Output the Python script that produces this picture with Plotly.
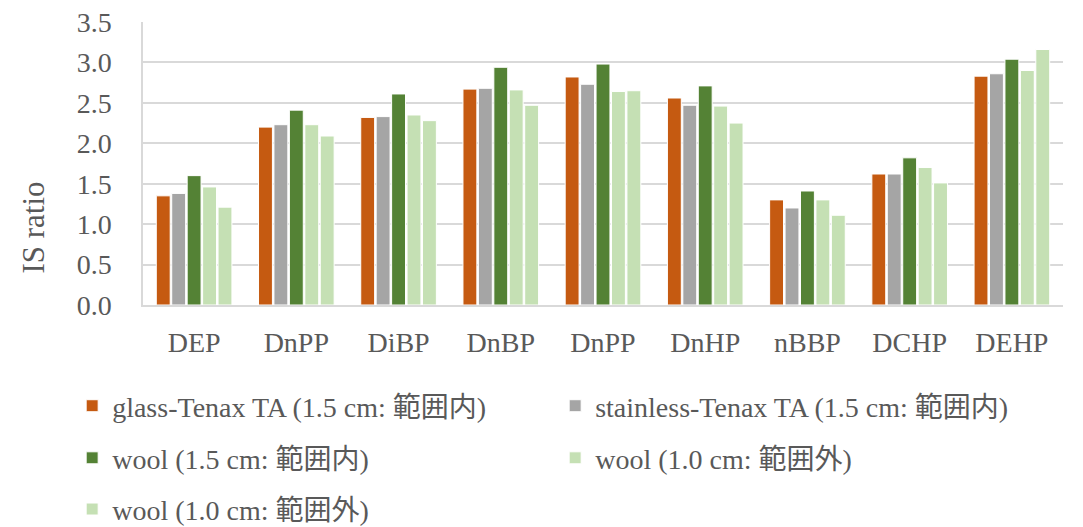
import plotly.graph_objects as go

# Compounds along the x axis (DnPP appears twice in the series)
categories = ["DEP", "DnPP", "DiBP", "DnBP", "DnPP", "DnHP", "nBBP", "DCHP", "DEHP"]

# IS ratio per adsorbent / tube configuration
glass_tenax = [1.35, 2.20, 2.32, 2.67, 2.82, 2.56, 1.30, 1.62, 2.83]
stainless_tenax = [1.38, 2.23, 2.33, 2.68, 2.73, 2.47, 1.20, 1.62, 2.86]
wool_15 = [1.60, 2.41, 2.61, 2.94, 2.98, 2.71, 1.41, 1.82, 3.04]
wool_10_a = [1.46, 2.23, 2.35, 2.66, 2.64, 2.46, 1.30, 1.70, 2.90]
wool_10_b = [1.21, 2.09, 2.28, 2.47, 2.65, 2.25, 1.11, 1.51, 3.16]

series_names = [
    "glass-Tenax TA (1.5 cm: 範囲内)",
    "stainless-Tenax TA (1.5 cm: 範囲内)",
    "wool (1.5 cm: 範囲内)",
    "wool (1.0 cm: 範囲外)",
    "wool (1.0 cm: 範囲外)",
]
series_values = [glass_tenax, stainless_tenax, wool_15, wool_10_a, wool_10_b]
series_colors = ["#C55A11", "#A5A5A5", "#548235", "#C5E0B4", "#C5E0B4"]
series_legends = ["legend", "legend", "legend2", "legend2", "legend3"]

FONT = "Liberation Serif, Noto Sans CJK JP"
TEXT = "#595959"
GRID = "#D9D9D9"

x_pos = list(range(len(categories)))

fig = go.Figure()
for name, vals, color, leg in zip(series_names, series_values, series_colors, series_legends):
    fig.add_trace(go.Bar(
        x=x_pos, y=vals, name=name, legend=leg,
        marker=dict(color=color, line=dict(color="white", width=1)),
    ))

legend_common = dict(
    orientation="h", xref="paper", yref="paper",
    xanchor="left", yanchor="middle",
    font=dict(family=FONT, size=28, color=TEXT),
    entrywidth=438, entrywidthmode="pixels",
    bgcolor="rgba(0,0,0,0)", itemclick=False,
)

fig.update_layout(
    width=1083, height=527,
    margin=dict(l=143, r=20, t=22, b=222, autoexpand=False),
    paper_bgcolor="white", plot_bgcolor="white",
    font=dict(family=FONT, size=28, color=TEXT),
    barmode="group", bargap=0.245, bargroupgap=0.1,
    showlegend=True,
    legend=dict(x=-0.077, y=-0.357, **legend_common),
    legend2=dict(x=-0.077, y=-0.541, **legend_common),
    legend3=dict(x=-0.077, y=-0.722, **legend_common),
    xaxis=dict(
        range=[-0.5, len(categories) - 0.5],
        tickmode="array", tickvals=x_pos, ticktext=categories,
        showgrid=False, showline=True, linecolor=GRID, linewidth=1.5,
        ticks="", ticklabelstandoff=12,
        tickfont=dict(family=FONT, size=28, color=TEXT),
    ),
    yaxis=dict(
        range=[0, 3.5], dtick=0.5, tickformat=".1f",
        showgrid=True, gridcolor=GRID, gridwidth=1.5,
        showline=True, linecolor=GRID, linewidth=1.5,
        zeroline=False, ticks="", ticklabelstandoff=24,
        tickfont=dict(family=FONT, size=28, color=TEXT),
    ),
    annotations=[dict(
        text="IS ratio", textangle=-90, showarrow=False,
        xref="paper", yref="paper", x=-0.119, y=0.272,
        xanchor="center", yanchor="middle",
        font=dict(family=FONT, size=31, color=TEXT),
    )],
)

fig.write_html("out.html")
